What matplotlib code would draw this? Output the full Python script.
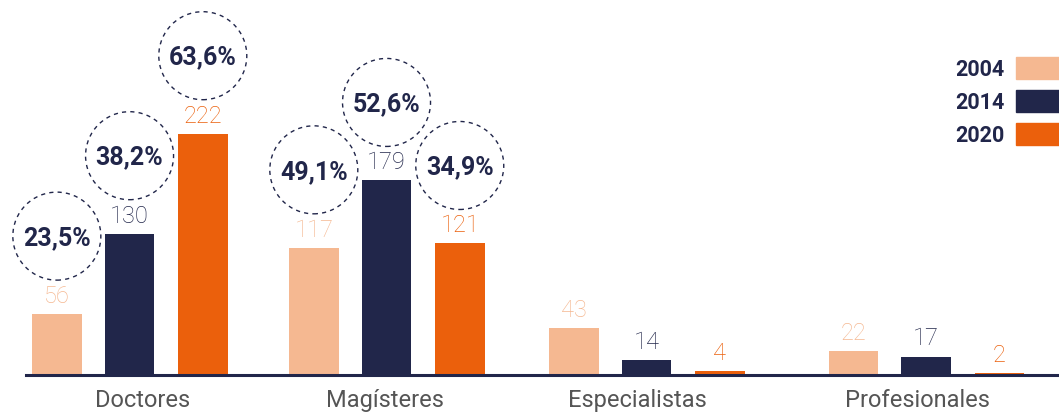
import matplotlib
matplotlib.use("Agg")
import matplotlib.pyplot as plt
from matplotlib.patches import Circle, Rectangle
from matplotlib.transforms import ScaledTranslation

categories = ["Doctores", "Magísteres", "Especialistas", "Profesionales"]
years = ["2004", "2014", "2020"]
values_2004 = [56, 117, 43, 22]
values_2014 = [130, 179, 14, 17]
values_2020 = [222, 121, 4, 2]
# percentages shown in the dashed circles (None = no circle)
pct_2004 = [23.5, 49.1, None, None]
pct_2014 = [38.2, 52.6, None, None]
pct_2020 = [63.6, 34.9, None, None]

series = [values_2004, values_2014, values_2020]
pcts = [pct_2004, pct_2014, pct_2020]
colors = ["#F5B891", "#21264A", "#EB600C"]
navy = "#21264A"
gray = "#555555"

# layout (in group units)
group_x = [0, 1, 2.012, 3.10]
label_x = [0.049, 0.994, 1.975, 3.068]
offsets = [-0.283, 0, 0.285]
bar_w = 0.193

plt.rcParams["font.family"] = ["Roboto", "DejaVu Sans"]

fig = plt.figure(figsize=(10.59, 4.16), dpi=100)
ax = fig.add_axes([26 / 1059, 41 / 416, 1 - 26 / 1059, 1 - 41 / 416])
ax.set_xlim(-0.403, 3.617)
ax.set_ylim(0, 345)

for vals, pc, off, col in zip(series, pcts, offsets, colors):
    xs = [g + off for g in group_x]
    ax.bar(xs, vals, width=bar_w, color=col, zorder=2)
    for x, v, p in zip(xs, vals, pc):
        ax.annotate(str(v), (x, v), xytext=(0, 8), textcoords="offset points",
                    ha="center", va="baseline", fontsize=17, color=col,
                    fontweight="light")
        if p is not None:
            tr = fig.dpi_scale_trans + ScaledTranslation(x, v, ax.transData)
            circ = Circle((0, 0.78), 0.44, transform=tr, fill=False,
                          edgecolor=navy, lw=1, ls=(0, (3, 3)), clip_on=False)
            fig.add_artist(circ)
            ax.annotate(f"{p:.1f}".replace(".", ",") + "%", (x, v),
                        xytext=(0, 49.7), textcoords="offset points",
                        ha="center", va="baseline", fontsize=18,
                        fontweight="bold", color=navy)

for s in ["top", "right", "left"]:
    ax.spines[s].set_visible(False)
ax.spines["bottom"].set_color(navy)
ax.spines["bottom"].set_linewidth(2.2)
ax.set_yticks([])
ax.set_xticks(label_x)
ax.set_xticklabels(categories, fontsize=17, color=gray)
ax.tick_params(axis="x", length=0, pad=10)

# legend drawn by hand: label on the left, colour box on the right
for i, (yr, col) in enumerate(zip(years, colors)):
    top = 57 + 33 * i
    fig.add_artist(Rectangle((1016 / 1059, 1 - (top + 22) / 416), 60 / 1059, 22 / 416,
                             transform=fig.transFigure, color=col, clip_on=False))
    fig.text(1005 / 1059, 1 - (top + 19) / 416, yr, ha="right", va="baseline",
             fontsize=15.5, fontweight="bold", color=navy)

fig.savefig("out.png", dpi=100)
